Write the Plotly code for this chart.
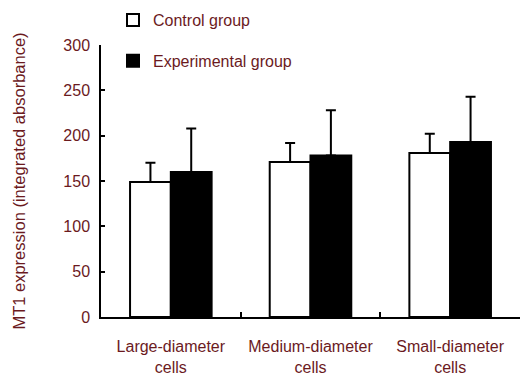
import plotly.graph_objects as go

categories = ["Large-diameter<br>cells", "Medium-diameter<br>cells", "Small-diameter<br>cells"]
control_values = [149, 171, 181]
control_errors = [21, 21, 21]
experimental_values = [160, 178, 193]
experimental_errors = [48, 50, 50]
y_ticks = [0, 50, 100, 150, 200, 250, 300]

TEXT = "#6b1a1e"
FONT = "Liberation Sans, Arial, sans-serif"

fig = go.Figure()
fig.add_trace(go.Bar(
    x=categories, y=control_values, name="Control group", legendgroup="c",
    marker=dict(color="white", line=dict(color="black", width=2)),
    error_y=dict(type="data", array=control_errors, arrayminus=[0] * 3, symmetric=False,
                 color="black", thickness=2, width=5),
))
fig.add_trace(go.Bar(
    x=categories, y=experimental_values, name="Experimental group", legendgroup="e",
    marker=dict(color="black", line=dict(color="black", width=2)),
    error_y=dict(type="data", array=experimental_errors, arrayminus=[0] * 3, symmetric=False,
                 color="black", thickness=2, width=5),
))

fig.update_layout(
    width=520, height=376,
    margin=dict(l=101, r=0, t=45, b=59, autoexpand=False),
    paper_bgcolor="white", plot_bgcolor="white",
    font=dict(family=FONT, size=16, color=TEXT),
    barmode="group", bargap=0.416, bargroupgap=0,
    showlegend=True,
    legend=dict(x=12 / 419, y=1 + 42 / 272,
                xanchor="left", yanchor="top", tracegroupgap=17,
                traceorder="grouped", bgcolor="rgba(0,0,0,0)",
                font=dict(size=16, color=TEXT)),
    xaxis=dict(type="category", showline=True, linecolor="black", linewidth=1.5,
               ticks="inside", tickson="boundaries", ticklen=5, tickwidth=1.5,
               tickcolor="black", showgrid=False, ticklabelstandoff=14, tickangle=0),
    yaxis=dict(range=[0, 300], tickvals=y_ticks, showline=True, linecolor="black",
               linewidth=1.5, ticks="inside", ticklen=4, tickwidth=1.5, tickcolor="black",
               showgrid=False, zeroline=False, ticklabelstandoff=6,
               title=dict(text="MT1 expression (integrated absorbance)", standoff=34,
                          font=dict(size=16.5, color=TEXT))),
)

fig.write_html("out.html", config={"displayModeBar": False},
               post_script="document.body.style.margin='0';document.body.style.overflow='hidden';")
